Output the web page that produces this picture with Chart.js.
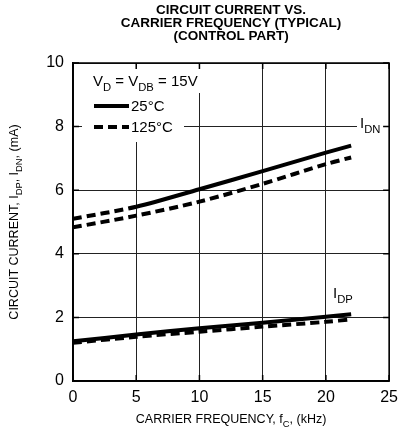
<!DOCTYPE html>
<html>
<head>
<meta charset="utf-8">
<script src="https://cdn.jsdelivr.net/npm/chart.js@4.4.1/dist/chart.umd.min.js"></script>
<style>
  html, body { margin: 0; padding: 0; background: #fff; }
  #wrap { width: 405px; height: 437px; }
</style>
</head>
<body>
<div id="wrap"><canvas id="chart" width="405" height="437"></canvas></div>
<script>
// Datos
const freq = [0, 5, 10, 15, 20, 22];
const idn25 = [5.1, 5.48, 6.03, 6.6, 7.18, 7.40];
const idn125 = [4.83, 5.2, 5.64, 6.2, 6.82, 7.03];
const idp25 = [1.25, 1.46, 1.66, 1.83, 2.02, 2.1];
const idp125 = [1.2, 1.39, 1.55, 1.71, 1.86, 1.94];
const xTicks = [0, 5, 10, 15, 20, 25];
const yTicks = [0, 2, 4, 6, 8, 10];

const FONT = '"Liberation Sans", Arial, Helvetica, sans-serif';
const DASH = [9, 5];

function points(ys) {
  return freq.map((f, i) => ({ x: f, y: ys[i] }));
}

// Dibuja texto con subindices: parts = [[texto, esSub], ...]
function richWidth(ctx, parts, size) {
  let w = 0;
  parts.forEach(([t, sub]) => {
    ctx.font = (sub ? size * 0.75 : size) + 'px ' + FONT;
    w += ctx.measureText(t).width;
  });
  return w;
}
function drawRich(ctx, parts, x, y, size, align) {
  let w = richWidth(ctx, parts, size);
  let cx = align === 'center' ? x - w / 2 : x;
  ctx.textBaseline = 'alphabetic';
  ctx.textAlign = 'left';
  ctx.fillStyle = '#000';
  parts.forEach(([t, sub]) => {
    ctx.font = (sub ? size * 0.75 : size) + 'px ' + FONT;
    ctx.fillText(t, cx, sub ? y + size * 0.3 : y);
    cx += ctx.measureText(t).width;
  });
}

const decorPlugin = {
  id: 'decor',
  beforeDatasetsDraw(chart) {
    const ctx = chart.ctx;
    ctx.save();
    ctx.fillStyle = '#fff';
    // huecos en la reticula detras de leyenda y etiquetas
    ctx.fillRect(82, 67, 124, 26);
    ctx.fillRect(82, 93, 102, 49);
    ctx.fillRect(357, 110, 31, 27);
    ctx.fillRect(331, 280, 32, 26);
    ctx.restore();
  },
  afterDatasetsDraw(chart) {
    const ctx = chart.ctx;
    const a = chart.chartArea;
    const xs = chart.scales.x, ys = chart.scales.y;
    ctx.save();
    ctx.strokeStyle = '#000';
    ctx.lineWidth = 1.5;
    ctx.strokeRect(a.left, a.top, a.right - a.left, a.bottom - a.top);
    ctx.beginPath();
    xTicks.forEach(v => {
      const px = xs.getPixelForValue(v);
      ctx.moveTo(px, a.top); ctx.lineTo(px, a.top + 6);
      ctx.moveTo(px, a.bottom); ctx.lineTo(px, a.bottom - 6);
    });
    yTicks.forEach(v => {
      const py = ys.getPixelForValue(v);
      ctx.moveTo(a.left, py); ctx.lineTo(a.left + 6, py);
      ctx.moveTo(a.right, py); ctx.lineTo(a.right - 6, py);
    });
    ctx.stroke();

    // leyenda
    drawRich(ctx, [['V', 0], ['D', 1], [' = V', 0], ['DB', 1], [' = 15V', 0]], 93, 86, 15, 'left');
    ctx.lineWidth = 4;
    ctx.beginPath(); ctx.moveTo(94, 106); ctx.lineTo(129, 106); ctx.stroke();
    ctx.setLineDash(DASH);
    ctx.beginPath(); ctx.moveTo(94, 127); ctx.lineTo(129, 127); ctx.stroke();
    ctx.setLineDash([]);
    drawRich(ctx, [['25°C', 0]], 131, 111, 15, 'left');
    drawRich(ctx, [['125°C', 0]], 131, 132, 15, 'left');

    // etiquetas de curvas
    drawRich(ctx, [['I', 0], ['DN', 1]], 360, 128, 15, 'left');
    drawRich(ctx, [['I', 0], ['DP', 1]], 333, 298, 15, 'left');

    // titulo
    ctx.font = 'bold 13.5px ' + FONT;
    ctx.textAlign = 'center';
    ctx.textBaseline = 'alphabetic';
    const tx = (a.left + a.right) / 2;
    ctx.fillText('CIRCUIT CURRENT VS.', tx, 14);
    ctx.fillText('CARRIER FREQUENCY (TYPICAL)', tx, 27);
    ctx.fillText('(CONTROL PART)', tx, 40);

    // titulos de ejes
    drawRich(ctx, [['CARRIER FREQUENCY, f', 0], ['C', 1], [', (kHz)', 0]], tx, 423, 12.5, 'center');
    ctx.translate(18, (a.top + a.bottom) / 2);
    ctx.rotate(-Math.PI / 2);
    drawRich(ctx, [['CIRCUIT CURRENT, I', 0], ['DP', 1], [', I', 0], ['DN', 1], [', (mA)', 0]], 0, 0, 12.5, 'center');
    ctx.restore();
  }
};

const lineStyle = {
  borderColor: '#000',
  borderWidth: 4,
  pointRadius: 0,
  fill: false,
  tension: 0.3
};

new Chart(document.getElementById('chart'), {
  type: 'line',
  data: {
    datasets: [
      Object.assign({ label: 'IDN 25°C', data: points(idn25),
        segment: { borderDash: c => c.p0.parsed.x < 5 ? DASH : undefined } }, lineStyle),
      Object.assign({ label: 'IDN 125°C', data: points(idn125), borderDash: DASH }, lineStyle),
      Object.assign({ label: 'IDP 25°C', data: points(idp25) }, lineStyle),
      Object.assign({ label: 'IDP 125°C', data: points(idp125), borderDash: DASH }, lineStyle)
    ]
  },
  options: {
    responsive: false,
    animation: false,
    devicePixelRatio: 1,
    layout: { padding: { top: 63, right: 12, left: 0, bottom: 0 } },
    plugins: { legend: { display: false }, title: { display: false }, tooltip: { enabled: false } },
    scales: {
      x: {
        type: 'linear', min: 0, max: 25,
        afterFit: s => { s.height = 56; },
        afterBuildTicks: s => { s.ticks = xTicks.map(v => ({ value: v })); },
        ticks: { color: '#000', padding: 7, font: { family: FONT, size: 16 } },
        grid: { color: '#222', lineWidth: 1, drawTicks: false },
        border: { color: '#000', width: 1.5 }
      },
      y: {
        type: 'linear', min: 0, max: 10,
        afterFit: s => { s.width = 73; },
        afterBuildTicks: s => { s.ticks = yTicks.map(v => ({ value: v })); },
        ticks: { color: '#000', padding: 9, font: { family: FONT, size: 16 } },
        grid: { color: '#222', lineWidth: 1, drawTicks: false },
        border: { color: '#000', width: 1.5 }
      }
    }
  },
  plugins: [decorPlugin]
});
</script>
</body>
</html>
